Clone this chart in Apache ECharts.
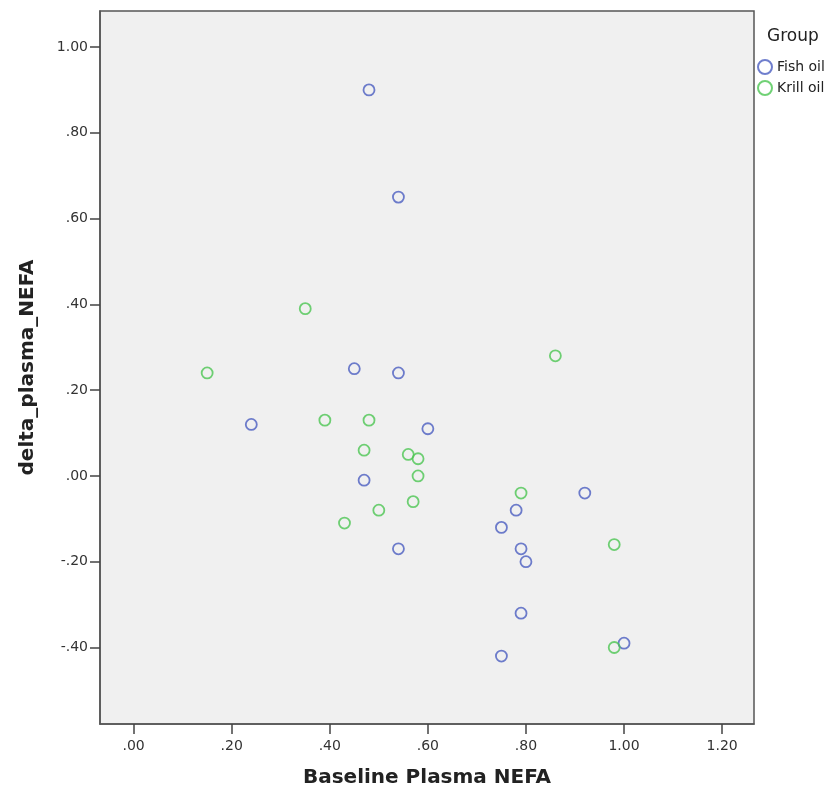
<!DOCTYPE html>
<html>
<head>
<meta charset="utf-8">
<script src="https://cdn.jsdelivr.net/npm/echarts@6/dist/echarts.min.js"></script>
<style>html,body{margin:0;padding:0;background:#fff}#c{width:840px;height:800px}</style>
</head>
<body>
<div id="c"></div>
<script>
// Data
var fishX = [0.48, 0.54, 0.45, 0.54, 0.24, 0.60, 0.47, 0.54, 0.75, 0.78, 0.92, 0.79, 0.80, 0.79, 0.75, 1.00];
var fishY = [0.90, 0.65, 0.25, 0.24, 0.12, 0.11, -0.01, -0.17, -0.12, -0.08, -0.04, -0.17, -0.20, -0.32, -0.42, -0.39];
var krillX = [0.35, 0.15, 0.39, 0.48, 0.47, 0.56, 0.58, 0.58, 0.57, 0.50, 0.43, 0.86, 0.79, 0.98, 0.98];
var krillY = [0.39, 0.24, 0.13, 0.13, 0.06, 0.05, 0.04, 0.00, -0.06, -0.08, -0.11, 0.28, -0.04, -0.16, -0.40];
var xTicks = [0, 0.2, 0.4, 0.6, 0.8, 1.0, 1.2];
var yTicks = [-0.4, -0.2, 0, 0.2, 0.4, 0.6, 0.8, 1.0];
var seriesNames = ['Fish oil', 'Krill oil'];
var legendTitle = 'Group';
var xTitle = 'Baseline Plasma NEFA';
var yTitle = 'delta_plasma_NEFA';

function pairs(xs, ys) { return xs.map(function (x, i) { return [x, ys[i]]; }); }
function fmt(v) {
  var s = Math.abs(v).toFixed(2);
  if (s.charAt(0) === '0') s = s.slice(1);
  return (v < -1e-9 ? '-' : '') + s;
}
var blue = '#4B5EC0', green = '#4CC552';
var chart = echarts.init(document.getElementById('c'), null, {renderer: 'canvas'});
var labelStyle = {fontFamily: 'DejaVu Sans', fontSize: 14, color: '#333'};
chart.setOption({
  backgroundColor: '#fff',
  animation: false,
  title: {text: legendTitle, left: 762, top: 23, textStyle: {fontFamily: 'DejaVu Sans', fontSize: 17, fontWeight: 'normal', color: '#222'}},
  legend: {
    orient: 'vertical', left: 752, top: 54, itemWidth: 14, itemHeight: 14, itemGap: 5,
    data: seriesNames,
    textStyle: {fontFamily: 'DejaVu Sans', fontSize: 14, color: '#222'}
  },
  grid: {left: 100, right: 86, top: 11, bottom: 76, show: true, backgroundColor: '#f0f0f0', borderColor: '#555', borderWidth: 1.5},
  xAxis: {
    type: 'value', min: -0.0685, max: 1.265,
    axisLine: {show: true, onZero: false, lineStyle: {color: '#555', width: 1.5}},
    axisTick: {show: true, customValues: xTicks, length: 10, lineStyle: {color: '#444', width: 1.5}},
    axisLabel: Object.assign({customValues: xTicks, formatter: fmt, margin: 15}, labelStyle),
    splitLine: {show: false},
    name: xTitle, nameLocation: 'middle', nameGap: 44,
    nameTextStyle: {fontFamily: 'DejaVu Sans', fontSize: 20, fontWeight: 'bold', color: '#222'}
  },
  yAxis: {
    type: 'value', min: -0.5784, max: 1.0839,
    axisLine: {show: true, onZero: false, lineStyle: {color: '#555', width: 1.5}},
    axisTick: {show: true, customValues: yTicks, length: 10, lineStyle: {color: '#444', width: 1.5}},
    axisLabel: Object.assign({customValues: yTicks, formatter: fmt, margin: 12}, labelStyle),
    splitLine: {show: false},
    name: yTitle, nameLocation: 'middle', nameGap: 62,
    nameTextStyle: {fontFamily: 'DejaVu Sans', fontSize: 20, fontWeight: 'bold', color: '#222'}
  },
  series: [
    {name: seriesNames[0], type: 'scatter', symbol: 'circle', symbolSize: 11, data: pairs(fishX, fishY),
     itemStyle: {color: 'rgba(0,0,0,0)', borderColor: blue, borderWidth: 1.8}},
    {name: seriesNames[1], type: 'scatter', symbol: 'circle', symbolSize: 11, data: pairs(krillX, krillY),
     itemStyle: {color: 'rgba(0,0,0,0)', borderColor: green, borderWidth: 1.8}}
  ]
});
</script>
</body>
</html>
